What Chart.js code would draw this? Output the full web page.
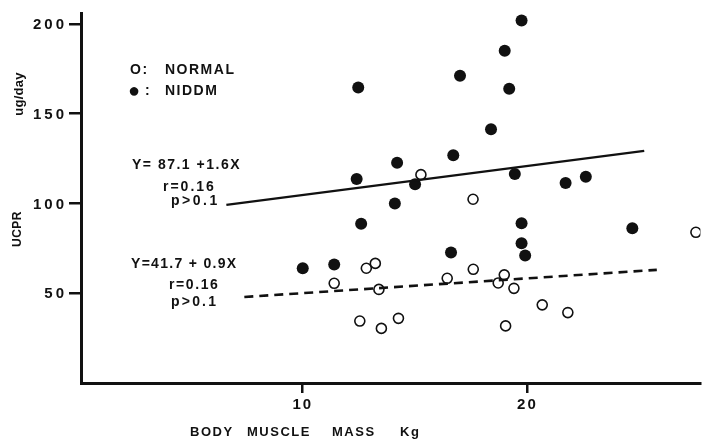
<!DOCTYPE html>
<html>
<head>
<meta charset="utf-8">
<script src="https://cdn.jsdelivr.net/npm/chart.js@4"></script>
<style>
  html, body { margin: 0; padding: 0; background: #fff; }
</style>
</head>
<body>
<canvas id="chart" width="707" height="441"></canvas>
<script>
// values
const xTicks = [10, 20];
const yTicks = [50, 100, 150, 200];

const niddmX = [10.0, 11.4, 12.4, 12.47, 12.6, 14.1, 14.2, 15.0, 16.6, 16.7, 17.0, 18.38, 18.99, 19.19, 19.44, 19.74, 19.74, 19.74, 19.9, 21.7, 22.6, 24.67];
const niddmY = [63.9, 66.0, 113.6, 164.5, 88.6, 100.0, 122.6, 110.6, 72.7, 126.8, 171.0, 141.3, 185.0, 163.8, 116.4, 201.8, 88.9, 77.8, 71.0, 111.4, 114.8, 86.2];

const normalX = [11.4, 12.54, 12.83, 13.23, 13.39, 13.5, 14.26, 15.26, 16.43, 17.58, 17.59, 18.7, 18.97, 19.03, 19.4, 20.66, 21.8, 27.5];
const normalY = [55.5, 34.5, 63.9, 66.6, 52.1, 30.4, 36.0, 116.0, 58.3, 102.3, 63.3, 55.7, 60.2, 31.8, 52.7, 43.5, 39.2, 83.9];

// regression lines as drawn (end points)
const niddmFitX = [6.6, 25.2];
const niddmFitY = [99.2, 129.2];
const normalFitX = [7.4, 25.76];
const normalFitY = [47.9, 63.0];

const INK = '#111';
const FONT = '"Liberation Sans", Arial, "DejaVu Sans", sans-serif';

const pts = (xs, ys) => xs.map((x, i) => ({ x, y: ys[i] }));

function drawText(ctx, text, x, y, opts = {}) {
  ctx.save();
  ctx.font = `bold ${opts.size || 14}px ${FONT}`;
  ctx.letterSpacing = `${opts.spacing ?? 1}px`;
  ctx.fillStyle = INK;
  ctx.textBaseline = 'middle';
  ctx.textAlign = opts.align || 'left';
  ctx.translate(x, y);
  if (opts.rotate) ctx.rotate(opts.rotate);
  ctx.fillText(text, 0, 0);
  ctx.restore();
}

const labelsPlugin = {
  id: 'labels',
  afterDraw(chart) {
    const ctx = chart.ctx;
    const { left, bottom } = chart.chartArea;
    const sx = chart.scales.x;
    const sy = chart.scales.y;

    // wide-set tick labels, placed through the scales
    yTicks.forEach(v => {
      drawText(ctx, String(v), left - 14, sy.getPixelForValue(v) + 1, { size: 15, spacing: 3, align: 'right' });
    });
    xTicks.forEach(v => {
      drawText(ctx, String(v), sx.getPixelForValue(v), bottom + 22, { size: 15, spacing: 2, align: 'center' });
    });

    // legend
    drawText(ctx, 'O:', 130, 70, { size: 14, spacing: 1.5 });
    drawText(ctx, 'NORMAL', 165, 70, { size: 14, spacing: 1.5 });
    drawText(ctx, '\u25CF', 128, 91, { size: 20, spacing: 0 });
    drawText(ctx, ':', 145, 91, { size: 14 });
    drawText(ctx, 'NIDDM', 165, 91, { size: 14, spacing: 1.5 });

    // regression notes
    drawText(ctx, 'Y= 87.1 +1.6X', 132, 165, { size: 14, spacing: 1.5 });
    drawText(ctx, 'r=0.16', 163, 187, { size: 14, spacing: 2 });
    drawText(ctx, 'p>0.1', 171, 201, { size: 14, spacing: 2.5 });

    drawText(ctx, 'Y=41.7 + 0.9X', 131, 264, { size: 14, spacing: 1.3 });
    drawText(ctx, 'r=0.16', 169, 285, { size: 14, spacing: 1.6 });
    drawText(ctx, 'p>0.1', 171, 302, { size: 14, spacing: 2.2 });

    // axis titles
    drawText(ctx, 'ug/day', 19, 94, { size: 13, spacing: 0.3, align: 'center', rotate: -Math.PI / 2 });
    drawText(ctx, 'UCPR', 18, 229, { size: 12, spacing: 0.5, align: 'center', rotate: -Math.PI / 2 });

    drawText(ctx, 'BODY', 190, 432, { size: 13, spacing: 1.5 });
    drawText(ctx, 'MUSCLE', 247, 432, { size: 13, spacing: 1.5 });
    drawText(ctx, 'MASS', 332, 432, { size: 13, spacing: 1.5 });
    drawText(ctx, 'Kg', 400, 432, { size: 13, spacing: 1.5 });
  },
};

new Chart(document.getElementById('chart'), {
  type: 'scatter',
  data: {
    datasets: [
      {
        type: 'line',
        data: pts(niddmFitX, niddmFitY),
        borderColor: INK,
        borderWidth: 2.2,
        pointRadius: 0,
        fill: false,
      },
      {
        type: 'line',
        data: pts(normalFitX, normalFitY),
        borderColor: INK,
        borderWidth: 2.6,
        borderDash: [9, 6],
        pointRadius: 0,
        fill: false,
      },
      {
        label: 'NIDDM',
        data: pts(niddmX, niddmY),
        pointRadius: 6,
        pointBackgroundColor: INK,
        pointBorderWidth: 0,
      },
      {
        label: 'NORMAL',
        data: pts(normalX, normalY),
        pointRadius: 5,
        pointBackgroundColor: '#fff',
        pointBorderColor: INK,
        pointBorderWidth: 1.6,
      },
    ],
  },
  options: {
    responsive: false,
    animation: false,
    layout: { padding: { top: 13, right: 0, left: 0, bottom: 0 } },
    plugins: {
      legend: { display: false },
      tooltip: { enabled: false },
    },
    scales: {
      x: {
        type: 'linear',
        min: 0.13,
        max: 27.7,
        afterBuildTicks: s => { s.ticks = xTicks.map(v => ({ value: v })); },
        afterFit: s => { s.height = 58; },
        border: { display: true, color: INK, width: 3 },
        grid: {
          drawOnChartArea: false, drawTicks: true, tickLength: 10,
          lineWidth: 2.5, color: INK,
        },
        ticks: { display: false },
      },
      y: {
        type: 'linear',
        min: 0,
        max: 206,
        afterBuildTicks: s => { s.ticks = yTicks.map(v => ({ value: v })); },
        afterFit: s => { s.width = 81; },
        border: { display: true, color: INK, width: 3 },
        grid: {
          drawOnChartArea: false, drawTicks: true, tickLength: 12,
          lineWidth: 2.5, color: INK,
        },
        ticks: { display: false },
      },
    },
  },
  plugins: [labelsPlugin],
});
</script>
</body>
</html>
